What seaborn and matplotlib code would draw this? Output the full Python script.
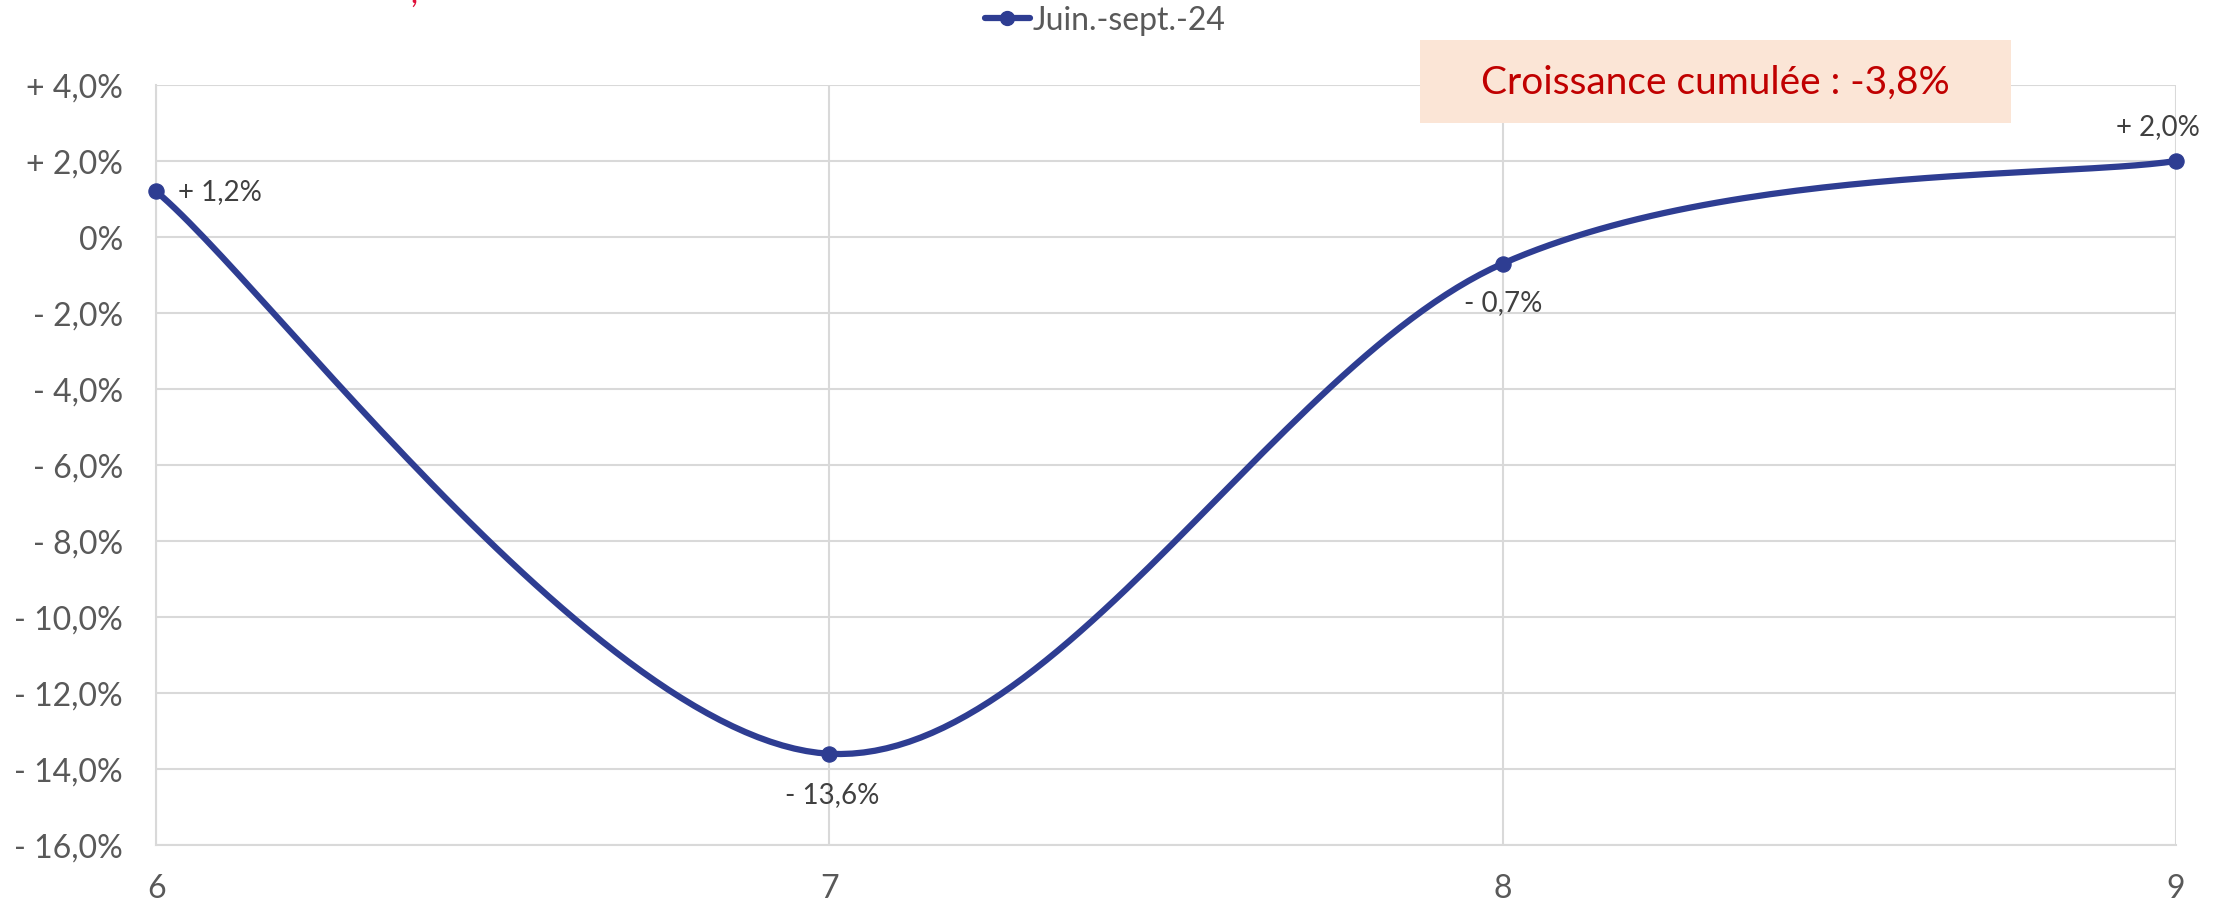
import numpy as np
import pandas as pd
import matplotlib
matplotlib.use("Agg")
import matplotlib.pyplot as plt
from matplotlib.patches import Rectangle
import seaborn as sns

# Data
months = [6, 7, 8, 9]
growth = [1.2, -13.6, -0.7, 2.0]
point_labels = ["+ 1,2%", "- 13,6%", "- 0,7%", "+ 2,0%"]
series_name = "Juin.-sept.-24"
y_ticks = [4, 2, 0, -2, -4, -6, -8, -10, -12, -14, -16]
y_tick_labels = ["+ 4,0%", "+ 2,0%", "0%", "- 2,0%", "- 4,0%", "- 6,0%", "- 8,0%",
                 "- 10,0%", "- 12,0%", "- 14,0%", "- 16,0%"]
cumulative_text = "Croissance cumulée : -3,8%"

LINE_COLOR = "#2E3D92"
TEXT_COLOR = "#595959"
LABEL_COLOR = "#404040"
GRID_COLOR = "#D9D9D9"
RED = "#C00000"


def smooth_curve(x, y, n=60):
    # Excel-like smoothed line: Catmull-Rom segments as cubic Bezier
    x = np.asarray(x, float)
    y = np.asarray(y, float)
    px, py = [], []
    for i in range(len(x) - 1):
        i0 = max(i - 1, 0)
        i3 = min(i + 2, len(x) - 1)
        c1x = x[i] + (x[i + 1] - x[i0]) / 6
        c1y = y[i] + (y[i + 1] - y[i0]) / 6
        c2x = x[i + 1] - (x[i3] - x[i]) / 6
        c2y = y[i + 1] - (y[i3] - y[i]) / 6
        t = np.linspace(0, 1, n)
        bx = (1 - t) ** 3 * x[i] + 3 * (1 - t) ** 2 * t * c1x + 3 * (1 - t) * t ** 2 * c2x + t ** 3 * x[i + 1]
        by = (1 - t) ** 3 * y[i] + 3 * (1 - t) ** 2 * t * c1y + 3 * (1 - t) * t ** 2 * c2y + t ** 3 * y[i + 1]
        px.extend(bx)
        py.extend(by)
    return pd.DataFrame({"mois": px, "croissance": py})


sns.set_style("white")
plt.rcParams["font.family"] = ["Lato", "DejaVu Sans"]

fig = plt.figure(figsize=(22.33, 9.04), dpi=100)
ax = fig.add_axes([0.0699, 0.0642, 0.9046, 0.8407])

df = pd.DataFrame({"mois": months, "croissance": growth})
curve = smooth_curve(months, growth)

sns.lineplot(data=curve, x="mois", y="croissance", ax=ax, color=LINE_COLOR,
             linewidth=4.5, sort=False, estimator=None, legend=False, clip_on=False)
sns.scatterplot(data=df, x="mois", y="croissance", ax=ax, color=LINE_COLOR,
                s=120, edgecolor=LINE_COLOR, zorder=5, clip_on=False, legend=False)

ax.set_xlim(6, 9)
ax.set_ylim(-16, 4)
ax.set_xticks(months)
ax.set_xticklabels([str(m) for m in months])
ax.set_yticks(y_ticks)
ax.set_yticklabels(y_tick_labels)
ax.tick_params(axis="both", length=0, labelsize=23, labelcolor=TEXT_COLOR)
ax.tick_params(axis="y", pad=24)
ax.tick_params(axis="x", pad=20)
ax.set_xlabel("")
ax.set_ylabel("")
ax.grid(True, color=GRID_COLOR, linewidth=1.5)
ax.set_axisbelow(True)
for side in ["top", "right"]:
    ax.spines[side].set_visible(False)
for side in ["left", "bottom"]:
    ax.spines[side].set_color(GRID_COLOR)
    ax.spines[side].set_linewidth(1.5)

# Data labels
offsets = [(16, 0, "left", "center"), (2, -20, "center", "top"),
           (0, -18, "center", "top"), (-13, 16, "center", "bottom")]
for m, g, lab, (dx, dy, ha, va) in zip(months, growth, point_labels, offsets):
    ax.annotate(lab, (m, g), xytext=(dx, dy), textcoords="offset points",
                ha=ha, va=va, fontsize=20, color=LABEL_COLOR)

# Cumulative growth box
fig.patches.append(Rectangle((0.636, 0.8628), 0.2647, 0.0918, transform=fig.transFigure,
                             facecolor="#FBE5D6", edgecolor="none", zorder=0))
fig.text(0.7683, 0.9087, cumulative_text, ha="center", va="center", fontsize=28,
         color=RED)

# Cropped title fragment at the very top
fig.text(0.184, 0.997, ",", ha="left", va="baseline", fontsize=22, color="#E0103A")

# Legend
handle = plt.Line2D([], [], color=LINE_COLOR, linewidth=4.5, marker="o", markersize=10)
fig.legend([handle], [series_name], loc="center", bbox_to_anchor=(0.495, 0.977),
           frameon=False, fontsize=23, labelcolor=TEXT_COLOR, handlelength=1.4,
           handletextpad=0.1)

fig.savefig("out.png", dpi=100)
